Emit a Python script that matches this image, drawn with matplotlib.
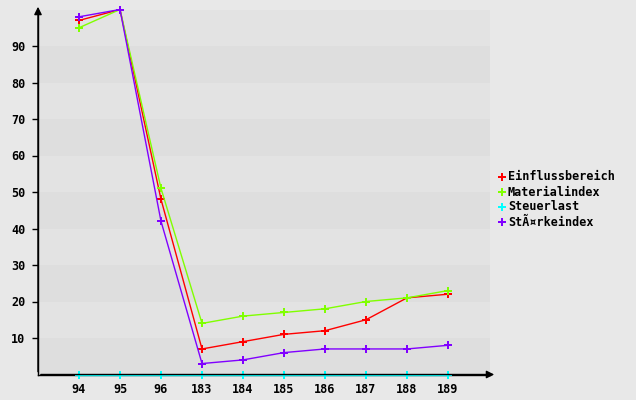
import matplotlib
matplotlib.use("Agg")
import matplotlib.pyplot as plt
from matplotlib.lines import Line2D

categories = ["94", "95", "96", "183", "184", "185", "186", "187", "188", "189"]
einfluss = [97, 100, 48, 7, 9, 11, 12, 15, 21, 22]
material = [95, 100, 51, 14, 16, 17, 18, 20, 21, 23]
steuer = [0, 0, 0, 0, 0, 0, 0, 0, 0, 0]
staerke = [98, 100, 42, 3, 4, 6, 7, 7, 7, 8]
series_names = ["Einflussbereich", "Materialindex", "Steuerlast", "St\u00c3\u00a4rkeindex"]
colors = ["#ff0000", "#80ff00", "#00ffff", "#8000ff"]
yticks = [10, 20, 30, 40, 50, 60, 70, 80, 90]

W, H = 636, 400
fig = plt.figure(figsize=(W / 100, H / 100), dpi=100, facecolor="#e8e8e8")
left, right, bottom, top = 38, 490, 374.5, 9.5
ax = fig.add_axes([left / W, 1 - bottom / H, (right - left) / W, (bottom - top) / H])
ax.set_facecolor("#e8e8e8")
x = list(range(len(categories)))
ax.set_xlim(-1, -1 + (right - left) / 41.0)
ax.set_ylim(0, 100)

for i in range(10):
    ax.axhspan(i * 10, i * 10 + 10, color="#dedede" if i % 2 == 0 else "#e3e3e3", lw=0, zorder=0)

for vals, c in zip([einfluss, material, steuer, staerke], colors):
    ax.plot(x, vals, color=c, lw=1, marker="P", markersize=6, markeredgewidth=0, zorder=3, clip_on=False)

font = dict(family="DejaVu Sans Mono", weight="bold", size=8.5)
ax.set_xticks(x)
ax.set_xticklabels(categories, fontdict=font)
ax.set_yticks(yticks)
ax.set_yticklabels([str(v) for v in yticks], fontdict=font)
ax.tick_params(axis="x", length=0, pad=6, colors="black")
ax.tick_params(axis="y", length=4, width=1, pad=5, colors="black")
for s in ["top", "right"]:
    ax.spines[s].set_visible(False)
ax.spines["left"].set_linewidth(1)
ax.spines["bottom"].set_linewidth(1)

# arrows
fig.add_artist(matplotlib.patches.FancyArrowPatch((left / W, 1 - bottom / H), (left / W, 1 - 4 / H),
               transform=fig.transFigure, arrowstyle="-|>,head_length=3,head_width=1.5", color="black", lw=1, mutation_scale=1.5))
fig.add_artist(matplotlib.patches.FancyArrowPatch((left / W, 1 - bottom / H), (497 / W, 1 - bottom / H),
               transform=fig.transFigure, arrowstyle="-|>,head_length=3,head_width=1.5", color="black", lw=1, mutation_scale=1.5))

for i, (name, c) in enumerate(zip(series_names, colors)):
    yy = 1 - (177 + 15 * i) / H
    fig.add_artist(Line2D([502 / W], [yy], transform=fig.transFigure, marker="P", markersize=6,
                          markeredgewidth=0, color=c, linestyle="none"))
    fig.text(508 / W, yy, name, color="black", ha="left", va="center", **font)

fig.savefig("out.png", dpi=100, facecolor=fig.get_facecolor())
